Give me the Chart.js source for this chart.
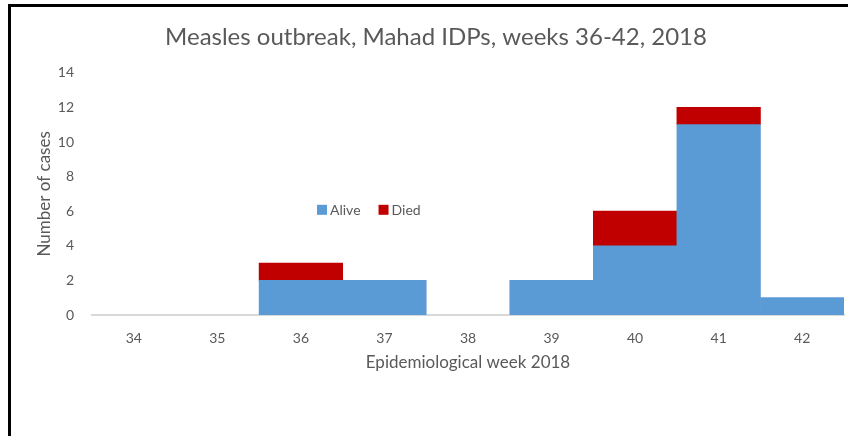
<!DOCTYPE html>
<html>
<head>
<meta charset="utf-8">
<script src="https://cdn.jsdelivr.net/npm/chart.js@4/dist/chart.umd.min.js"></script>
<style>
  html, body { margin: 0; padding: 0; background: #fff; }
  #wrap { position: relative; width: 848px; height: 436px; overflow: hidden; }
  #frame { position: absolute; left: 8px; top: 4px; width: 900px; height: 500px;
           border-top: 3px solid #000; border-left: 3px solid #000; pointer-events: none; }
  canvas { position: absolute; left: 0; top: 0; }
</style>
</head>
<body>
<div id="wrap">
  <canvas id="myChart" width="848" height="436"></canvas>
  <div id="frame"></div>
</div>
<script>
const weeks = ["34", "35", "36", "37", "38", "39", "40", "41", "42"];
const alive = [0, 0, 2, 2, 0, 2, 4, 11, 1];
const died = [0, 0, 1, 0, 0, 0, 2, 1, 0];
const yTicks = [0, 2, 4, 6, 8, 10, 12, 14];

const textColor = "#595959";
const fontFamily = "Lato, 'Liberation Sans', sans-serif";

// legend drawn inside the plot, like the original
const floatingLegend = {
  id: "floatingLegend",
  afterDraw(chart) {
    const ctx = chart.ctx;
    const area = chart.chartArea;
    const y = area.top + 137;
    let x = area.left + 225;
    ctx.save();
    ctx.font = "14px " + fontFamily;
    ctx.textBaseline = "middle";
    chart.data.datasets.forEach((ds) => {
      ctx.fillStyle = ds.backgroundColor;
      ctx.fillRect(x, y - 5, 10, 10);
      ctx.fillStyle = textColor;
      ctx.fillText(ds.label, x + 13, y + 1);
      x += 13 + ctx.measureText(ds.label).width + 18;
    });
    ctx.restore();
  },
};

// zero weeks get no bar at all
const noZero = (arr) => arr.map((v) => (v === 0 ? null : v));

const data = {
  labels: weeks,
  datasets: [
    {
      label: "Alive",
      data: noZero(alive),
      backgroundColor: "#5B9BD5",
      borderWidth: 0,
      barPercentage: 1,
      categoryPercentage: 1,
    },
    {
      label: "Died",
      data: noZero(died),
      backgroundColor: "#C00000",
      borderWidth: 0,
      barPercentage: 1,
      categoryPercentage: 1,
    },
  ],
};

const config = {
  type: "bar",
  data: data,
  plugins: [floatingLegend],
  options: {
    responsive: false,
    animation: false,
    layout: { padding: { left: 28, right: 4, top: 0, bottom: 0 } },
    plugins: {
      legend: { display: false },
      tooltip: { enabled: false },
      title: {
        display: true,
        text: "Measles outbreak, Mahad IDPs, weeks 36-42, 2018",
        color: textColor,
        font: { family: fontFamily, size: 24, weight: "normal" },
        padding: { top: 23, bottom: 21 },
      },
    },
    scales: {
      x: {
        stacked: true,
        grid: { display: false, drawTicks: false },
        border: { display: true, color: "#D9D9D9", width: 2 },
        ticks: { color: textColor, font: { family: fontFamily, size: 14 }, padding: 15 },
        title: {
          display: true,
          text: "Epidemiological week 2018",
          color: textColor,
          font: { family: fontFamily, size: 17 },
          padding: { top: 0, bottom: 63 },
        },
        afterFit: (scale) => { scale.height = 121; },
      },
      y: {
        stacked: true,
        min: 0,
        max: 14,
        grid: { display: false, drawTicks: false },
        border: { display: false },
        afterBuildTicks: (scale) => { scale.ticks = yTicks.map((v) => ({ value: v })); },
        ticks: { color: textColor, font: { family: fontFamily, size: 14 }, padding: 18 },
        title: {
          display: true,
          text: "Number of cases",
          color: textColor,
          font: { family: fontFamily, size: 17 },
          padding: { top: 6, bottom: 0 },
        },
        afterFit: (scale) => { scale.width = 64; },
      },
    },
  },
};

const ctx = document.getElementById("myChart").getContext("2d");
new Chart(ctx, config);
</script>
</body>
</html>
